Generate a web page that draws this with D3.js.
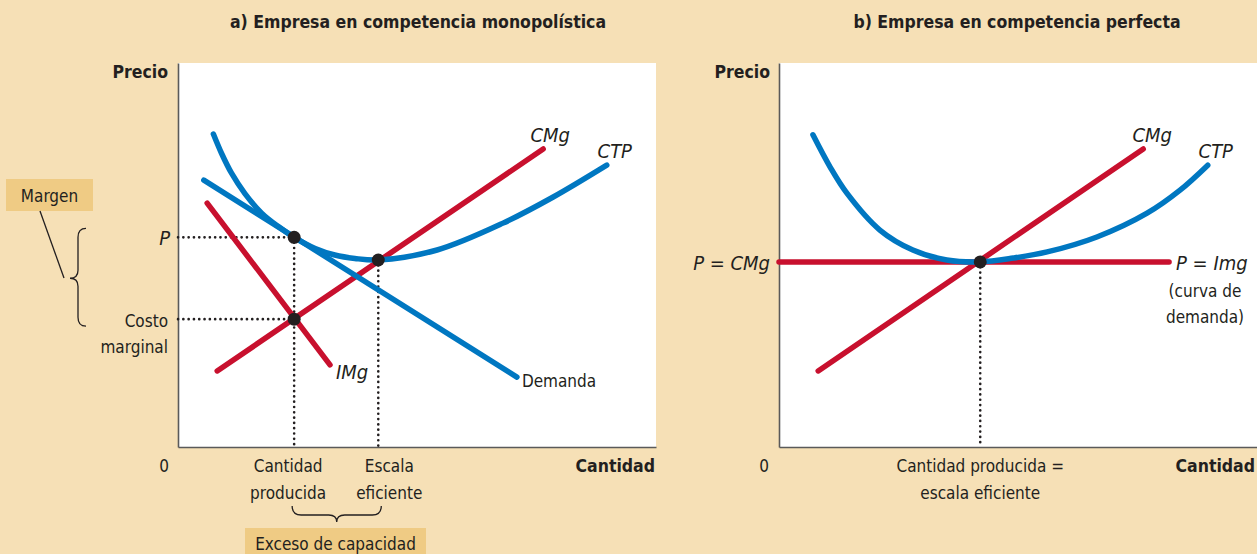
<html>
<head>
<script src="https://d3js.org/d3.v7.min.js"></script>
<style>
  body { margin: 0; background: #f6e0b6; }
  text { font-family: 'Liberation Sans Narrow', 'DejaVu Sans Condensed', 'Roboto', sans-serif; fill: #231f20; }
  .bold { font-weight: bold; }
  .it { font-style: italic; }
</style>
</head>
<body>
<svg id="chart" width="1257" height="554"></svg>
<script>
// ---- data (quantity / price units) ----
var ctpQa = [0.74, 0.91, 1.12, 1.40, 1.75, 2.10, 2.43, 2.87, 3.28, 3.70, 4.19, 5.42, 6.80, 7.85, 8.97];
var ctpPa = [8.15, 7.65, 7.13, 6.60, 6.09, 5.74, 5.46, 5.17, 5.00, 4.91, 4.87, 5.13, 5.83, 6.51, 7.34];
var demQ = [0.54, 7.09];
var demP = [6.95, 1.82];
var imgQ = [0.61, 3.18];
var imgP = [6.35, 2.14];
var cmgQa = [0.82, 7.64];
var cmgPa = [1.98, 7.76];
var qProd = 2.43, qEff = 4.19, pPrice = 5.46, pCosto = 3.33, pMinA = 4.87;

var ctpQb = [0.71, 1.07, 1.42, 2.11, 2.80, 3.51, 4.21, 4.90, 5.61, 6.65, 7.70, 8.39, 8.97];
var ctpPb = [8.13, 7.29, 6.61, 5.65, 5.13, 4.87, 4.82, 4.92, 5.08, 5.47, 6.09, 6.69, 7.34];
var cmgQb = [0.82, 7.62];
var cmgPb = [1.98, 7.76];
var priceQb = [0, 8.16];
var priceB = 4.82, qB = 4.21;

var blue = "#0077c1", red = "#c8102e", ink = "#231f20";
var svg = d3.select("#chart");
var yTop = 63, yBot = 447;

function zip(a, b) { return a.map(function(v, i) { return [v, b[i]]; }); }

function panel(x0, x1) {
  var x = d3.scaleLinear().domain([0, 10]).range([x0, x1]);
  var y = d3.scaleLinear().domain([0, 10]).range([yBot, yTop]);
  svg.append("rect").attr("x", x0).attr("y", yTop).attr("width", x1 - x0).attr("height", yBot - yTop).attr("fill", "#fff");
  svg.append("g").attr("transform", "translate(0," + yBot + ")")
    .call(d3.axisBottom(x).tickValues([]).tickSizeOuter(0));
  svg.append("g").attr("transform", "translate(" + x0 + ",0)")
    .call(d3.axisLeft(y).tickValues([]).tickSizeOuter(0));
  svg.selectAll(".domain").attr("stroke", "#5a5a5a").attr("stroke-width", 1.6);
  return {x: x, y: y};
}

function curve(p, pts, color, smooth) {
  var line = d3.line().x(function(d) { return p.x(d[0]); }).y(function(d) { return p.y(d[1]); });
  if (smooth) line.curve(d3.curveCatmullRom.alpha(0.5));
  svg.append("path").attr("d", line(pts)).attr("fill", "none").attr("stroke", color)
    .attr("stroke-width", 5.5).attr("stroke-linecap", "round");
}

function dotted(x1, y1, x2, y2) {
  svg.append("line").attr("x1", x1).attr("y1", y1).attr("x2", x2).attr("y2", y2)
    .attr("stroke", ink).attr("stroke-width", 2.6).attr("stroke-linecap", "round")
    .attr("stroke-dasharray", "0.1,5.2");
}

function dot(cx, cy) {
  svg.append("circle").attr("cx", cx).attr("cy", cy).attr("r", 6.5).attr("fill", ink);
}

function label(x, y, s, anchor, cls, size) {
  return svg.append("text").attr("x", x).attr("y", y).attr("text-anchor", anchor || "start")
    .attr("class", cls || "").style("font-size", (size || 17) + "px").text(s);
}

// ---------- panel a ----------
var a = panel(178, 656);
dotted(a.x(0), a.y(pPrice), a.x(qProd), a.y(pPrice));
dotted(a.x(0), a.y(pCosto), a.x(qProd), a.y(pCosto));
dotted(a.x(qProd), a.y(pPrice), a.x(qProd), yBot);
dotted(a.x(qEff), a.y(pMinA), a.x(qEff), yBot);
curve(a, zip(imgQ, imgP), red);
curve(a, zip(cmgQa, cmgPa), red);
curve(a, zip(demQ, demP), blue);
curve(a, zip(ctpQa, ctpPa), blue, true);
dot(a.x(qProd), a.y(pPrice));
dot(a.x(qProd), a.y(pCosto));
dot(a.x(qEff), a.y(pMinA));

label(418, 28, "a) Empresa en competencia monopolística", "middle", "bold", 17.5);
label(168, 78, "Precio", "end", "bold", 17.5);
label(164, 472, "0", "middle");
label(655, 472, "Cantidad", "end", "bold", 17.5);
label(a.x(qProd) - 6, 472, "Cantidad", "middle");
label(a.x(qProd) - 6, 499, "producida", "middle");
label(a.x(qEff) + 11, 472, "Escala", "middle");
label(a.x(qEff) + 11, 499, "eficiente", "middle");
label(a.x(cmgQa[1]) + 7, a.y(cmgPa[1]) - 7, "CMg", "middle", "it", 20);
label(a.x(ctpQa[14]) + 8, a.y(ctpPa[14]) - 7, "CTP", "middle", "it", 20);
label(a.x(imgQ[1]) + 6, a.y(imgP[1]) + 14, "IMg", "start", "it", 20);
label(a.x(demQ[1]) + 5, a.y(demP[1]) + 10, "Demanda", "start");
label(170, a.y(pPrice) + 8, "P", "end", "it", 20);
label(168, a.y(pCosto) + 8, "Costo", "end");
label(168, a.y(pCosto) + 34, "marginal", "end");

// margen note
svg.append("rect").attr("x", 6).attr("y", 179).attr("width", 87).attr("height", 32).attr("fill", "#efcb84");
label(49.5, 202, "Margen", "middle");
svg.append("line").attr("x1", 40).attr("y1", 211).attr("x2", 64).attr("y2", 278).attr("stroke", ink).attr("stroke-width", 1.3);
var ym = (a.y(pPrice) + a.y(pCosto)) / 2, yt = a.y(pPrice) - 9, yb = a.y(pCosto) + 7;
svg.append("path").attr("fill", "none").attr("stroke", ink).attr("stroke-width", 1.3)
  .attr("d", "M86," + yt + " Q78," + yt + " 78," + (yt + 9) + " L78," + (ym - 8) + " Q78," + ym + " 70," + ym +
    " Q78," + ym + " 78," + (ym + 8) + " L78," + (yb - 9) + " Q78," + yb + " 86," + yb);

// excess capacity brace
var bx1 = a.x(qProd) - 2, bx2 = a.x(qEff) + 3, bm = (bx1 + bx2) / 2;
svg.append("path").attr("fill", "none").attr("stroke", ink).attr("stroke-width", 1.3)
  .attr("d", "M" + bx1 + ",506 Q" + bx1 + ",515 " + (bx1 + 9) + ",515 L" + (bm - 8) + ",515 Q" + bm + ",515 " + bm + ",522" +
    " Q" + bm + ",515 " + (bm + 8) + ",515 L" + (bx2 - 9) + ",515 Q" + bx2 + ",515 " + bx2 + ",506");
svg.append("rect").attr("x", 245).attr("y", 528).attr("width", 181).attr("height", 30).attr("fill", "#efcb84");
label(335.5, 550, "Exceso de capacidad", "middle");

// ---------- panel b ----------
var b = panel(779, 1257);
dotted(b.x(qB), b.y(priceB), b.x(qB), yBot);
curve(b, zip(priceQb, [priceB, priceB]), red);
curve(b, zip(cmgQb, cmgPb), red);
curve(b, zip(ctpQb, ctpPb), blue, true);
dot(b.x(qB), b.y(priceB));

label(1017, 28, "b) Empresa en competencia perfecta", "middle", "bold", 17.5);
label(770, 78, "Precio", "end", "bold", 17.5);
label(764, 472, "0", "middle");
label(1255, 472, "Cantidad", "end", "bold", 17.5);
label(b.x(qB), 472, "Cantidad producida =", "middle");
label(b.x(qB), 499, "escala eficiente", "middle");
label(770, b.y(priceB) + 8, "P = CMg", "end", "it", 20);
label(b.x(cmgQb[1]) + 9, b.y(cmgPb[1]) - 7, "CMg", "middle", "it", 20);
label(b.x(ctpQb[12]) + 8, b.y(ctpPb[12]) - 7, "CTP", "middle", "it", 20);
label(b.x(priceQb[1]) + 7, b.y(priceB) + 8, "P = Img", "start", "it", 20);
label(1205, b.y(priceB) + 35, "(curva de", "middle");
label(1205, b.y(priceB) + 61, "demanda)", "middle");
</script>
</body>
</html>
